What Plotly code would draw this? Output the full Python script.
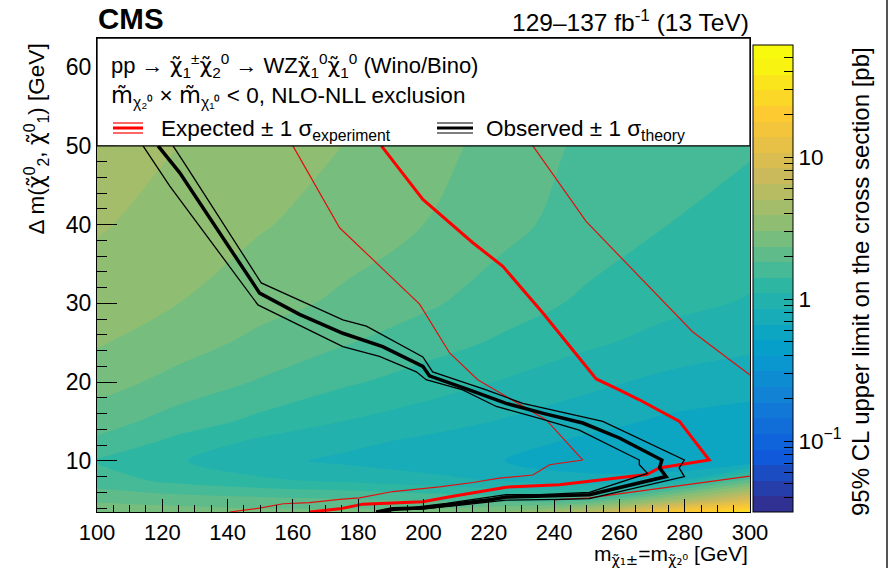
import math
import plotly.graph_objects as go

# ---------------- data ----------------
x_mass = [100, 125, 150, 175, 200, 225, 250, 275, 300]
y_dm = [3.5, 5, 7.5, 10, 12.5, 15, 20, 25, 30, 40, 50, 64]
# log10 of the 95% CL upper limit [pb], rows follow y_dm, columns follow x_mass
log_limit = [
    [0.45, 0.42, 0.40, 0.40, 0.42, 0.50, 0.75, 1.25, 1.50],
    [0.35, 0.32, 0.30, 0.28, 0.25, 0.22, 0.24, 0.60, 1.00],
    [0.20, 0.12, 0.06, 0.02, -0.03, -0.08, -0.15, -0.12, 0.30],
    [0.14, 0.05, -0.04, -0.09, -0.13, -0.18, -0.23, -0.26, -0.27],
    [0.24, 0.12, 0.02, -0.04, -0.09, -0.14, -0.20, -0.24, -0.26],
    [0.31, 0.21, 0.12, 0.04, -0.02, -0.08, -0.14, -0.20, -0.22],
    [0.42, 0.33, 0.25, 0.17, 0.10, 0.03, -0.04, -0.10, -0.14],
    [0.49, 0.42, 0.34, 0.27, 0.20, 0.13, 0.06, 0.00, -0.04],
    [0.54, 0.48, 0.41, 0.35, 0.28, 0.20, 0.13, 0.07, 0.03],
    [0.60, 0.55, 0.49, 0.43, 0.37, 0.29, 0.21, 0.15, 0.11],
    [0.64, 0.59, 0.54, 0.48, 0.42, 0.32, 0.24, 0.19, 0.16],
    [0.70, 0.65, 0.60, 0.54, 0.48, 0.38, 0.29, 0.24, 0.20],
]

obs_x = [118.7, 125.3, 149.8, 162.0, 175.3, 187.5, 199.8, 201.8, 214.0, 225.3, 237.0, 248.8,
         260.0, 273.0, 272.3, 274.3, 250.8, 235.5, 225.3, 221.0, 207.0, 199.8, 190.6, 185.5]
obs_y = [50.0, 46.6, 31.3, 28.6, 26.2, 24.5, 22.0, 20.8, 19.0, 17.3, 16.0, 14.8,
         12.9, 10.1, 9.1, 8.0, 5.7, 5.5, 5.4, 5.1, 4.4, 4.0, 3.9, 3.5]

obs_up_x = [123.3, 127.4, 150.3, 175.3, 182.5, 199.8, 202.8, 219.2, 230.4, 254.9, 279.9,
            278.3, 279.9, 250.8, 241.6, 225.3, 210.0, 199.8, 190.0, 185.5]
obs_up_y = [50.0, 47.4, 32.6, 27.9, 27.1, 23.2, 21.3, 19.0, 17.3, 15.0, 10.1,
            9.1, 8.0, 5.2, 5.1, 5.0, 4.3, 3.9, 3.7, 3.5]

obs_dn_x = [114.1, 122.3, 149.3, 175.3, 186.5, 197.8, 200.8, 212.0, 222.3, 235.5, 247.7,
            266.1, 266.1, 268.6, 250.8, 235.5, 225.3, 215.0, 207.0, 195.0, 188.0]
obs_dn_y = [50.0, 44.9, 29.8, 24.5, 23.25, 21.3, 20.3, 19.0, 16.9, 15.4, 13.9,
            10.1, 9.5, 8.4, 6.0, 5.7, 5.7, 5.1, 4.6, 4.0, 3.5]

exp_x = [187.1, 199.8, 215.1, 224.3, 236.5, 252.9, 259.0, 266.1, 278.4, 287.5, 272.2,
         268.4, 241.6, 225.3, 209.0, 199.8, 181.4, 174.3, 165.1]
exp_y = [50.0, 43.2, 37.7, 34.7, 28.8, 20.4, 19.2, 17.75, 15.0, 10.1, 9.1,
         8.25, 6.95, 6.65, 5.5, 4.8, 4.5, 3.9, 3.5]

exp_dn_x = [160.0, 169.2, 174.3, 198.8, 208.0, 216.6, 237.6, 248.8, 238.6, 233.5, 223.3,
            215.1, 204.9, 190.6, 180.4, 174.3, 165.1, 157.0, 149.8, 140.6]
exp_dn_y = [50.0, 43.2, 39.6, 29.9, 23.7, 20.3, 15.2, 10.1, 9.5, 8.2, 7.8,
            7.25, 6.7, 6.1, 5.3, 5.1, 4.7, 4.55, 4.0, 3.5]

exp_up_x = [233.5, 249.8, 282.4, 300.0, None, 300.0, 250.8, 240.0]
exp_up_y = [50.0, 40.4, 26.4, 20.9, None, 8.05, 5.3, 5.05]

cbar_tick_values = [0.04, 0.05, 0.06, 0.07, 0.08, 0.09, 0.1, 0.2, 0.3, 0.4, 0.5, 0.6, 0.7, 0.8, 0.9,
                    1, 2, 3, 4, 5, 6, 7, 8, 9, 10, 20, 30, 40, 50]
cbar_labels = {0.1: "10<sup>\u22121</sup>", 1: "1", 10: "10"}

# ROOT kBird palette
bird_stops = [0.0, 0.125, 0.25, 0.375, 0.5, 0.625, 0.75, 0.875, 1.0]
bird_r = [0.2082, 0.0592, 0.0780, 0.0232, 0.1802, 0.5301, 0.8186, 0.9956, 0.9764]
bird_g = [0.1664, 0.3599, 0.5041, 0.6419, 0.7178, 0.7492, 0.7328, 0.7862, 0.9832]
bird_b = [0.5293, 0.8684, 0.8385, 0.7914, 0.6425, 0.4662, 0.3499, 0.1968, 0.0539]
colorscale = [[s, f"rgb({int(r*255)},{int(g*255)},{int(b*255)})"]
              for s, r, g, b in zip(bird_stops, bird_r, bird_g, bird_b)]

FONT = "Liberation Sans, Arial, Helvetica, sans-serif"
TS = 22.5
ZMIN, ZMAX = -1.5, 1.79

fig = go.Figure()

fig.add_trace(go.Contour(
    x=x_mass, y=y_dm, z=log_limit,
    colorscale=colorscale, zmin=ZMIN, zmax=ZMAX, autocontour=False,
    contours=dict(start=ZMIN, end=ZMAX, size=0.11, coloring="fill", showlines=False),
    line=dict(width=0),
    hoverinfo="skip",
    colorbar=dict(
        x=1.0046, xanchor="left", xpad=0, ypad=0,
        y=0, yanchor="bottom", len=467, lenmode="pixels",
        thickness=40, thicknessmode="pixels",
        outlinewidth=1, outlinecolor="black",
        tickmode="array",
        tickvals=[math.log10(v) for v in cbar_tick_values],
        ticktext=[cbar_labels.get(v, "") for v in cbar_tick_values],
        ticks="inside", ticklen=9, tickcolor="black", tickwidth=1,
        tickfont=dict(family=FONT, size=22.5, color="black"),
    ),
))

def add_line(xs, ys, color, width):
    fig.add_trace(go.Scatter(x=xs, y=ys, mode="lines", line=dict(color=color, width=width),
                             showlegend=False, hoverinfo="skip", connectgaps=False))

add_line(exp_up_x, exp_up_y, "#e01010", 1.2)
add_line(exp_dn_x, exp_dn_y, "#e01010", 1.2)
add_line(exp_x, exp_y, "#ff0000", 3)
add_line(obs_up_x, obs_up_y, "black", 1.3)
add_line(obs_dn_x, obs_dn_y, "black", 1.3)
add_line(obs_x, obs_y, "black", 3.5)

fig.update_layout(
    width=896, height=568,
    margin=dict(l=97, r=146, t=38, b=56),
    paper_bgcolor="white", plot_bgcolor="white",
    font=dict(family=FONT, size=TS, color="black"),
    showlegend=False,
    xaxis=dict(range=[100, 300], tick0=100, dtick=20, ticks="inside", ticklen=13,
               tickwidth=1.2, tickcolor="black",
               minor=dict(ticks="inside", ticklen=7, dtick=5, tickcolor="black", tickwidth=1),
               showline=True, mirror=True, linecolor="black", linewidth=1.3,
               showgrid=False, zeroline=False, tickfont=dict(size=22, family=FONT)),
    yaxis=dict(range=[3.5, 63.7], tick0=0, dtick=10, ticks="inside", ticklen=20,
               tickwidth=1.2, tickcolor="black",
               minor=dict(ticks="inside", ticklen=10, dtick=2, tickcolor="black", tickwidth=1),
               showline=True, mirror=True, linecolor="black", linewidth=1.3,
               showgrid=False, zeroline=False, tickfont=dict(size=23, family=FONT)),
)

def px2x(px):
    return (px - 97) / 653.0

def py2y(py):
    return 1 - (py - 38) / 474.0

shapes = [
    dict(type="rect", xref="paper", yref="y", x0=0, x1=1, y0=50, y1=63.7,
         fillcolor="white", line=dict(color="black", width=1.3), layer="above"),
    dict(type="line", xref="paper", yref="paper", x0=px2x(887), x1=px2x(887),
         y0=py2y(0), y1=py2y(568), line=dict(color="#555555", width=2), layer="above"),
]
# legend symbols: three lines each
for (x0, x1, col) in [(113, 143, "red"), (437, 473, "black")]:
    for dy, w in [(-5, 1.2), (0, 3), (5, 1.2)]:
        shapes.append(dict(type="line", xref="paper", yref="paper",
                           x0=px2x(x0), x1=px2x(x1), y0=py2y(128 + dy), y1=py2y(128 + dy),
                           line=dict(color=col, width=w), layer="above"))
fig.update_layout(shapes=shapes)

DJ = "<span style=\"font-family:'DejaVu Sans'\">"
chi = DJ + "\u03c7\u0303</span>"
mt = DJ + "m\u0303</span>"
ann = [
    dict(text="<b>CMS</b>", x=px2x(96), y=py2y(18), xanchor="left", yanchor="middle",
         font=dict(size=29.5)),
    dict(text="129\u2013137 fb<sup>-1</sup> (13 TeV)", x=px2x(751), y=py2y(20),
         xanchor="right", yanchor="middle", font=dict(size=24.5)),
    dict(text=f"pp \u2192 {chi}<sub>1</sub><sup>\u00b1</sup>{chi}<sub>2</sub><sup>0</sup> \u2192 "
              f"WZ{chi}<sub>1</sub><sup>0</sup>{chi}<sub>1</sub><sup>0</sup> (Wino/Bino)",
         x=px2x(109), y=py2y(66), xanchor="left", yanchor="middle", font=dict(size=22)),
    dict(text=f"{mt}<sub>\u03c7\u2082\u2070</sub> \u00d7 {mt}<sub>\u03c7\u2081\u2070</sub> < 0, NLO-NLL exclusion",
         x=px2x(109), y=py2y(96), xanchor="left", yanchor="middle", font=dict(size=TS)),
    dict(text="Expected \u00b1 1 \u03c3<sub>experiment</sub>", x=px2x(159), y=py2y(130),
         xanchor="left", yanchor="middle", font=dict(size=TS)),
    dict(text="Observed \u00b1 1 \u03c3<sub>theory</sub>", x=px2x(484), y=py2y(130),
         xanchor="left", yanchor="middle", font=dict(size=TS)),
    dict(text=f"m<sub>{DJ}\u03c7\u0303\u2081\u00b1</span></sub>=m<sub>{DJ}\u03c7\u0303\u2082\u2070</span></sub> [GeV]",
         x=1.0, y=py2y(554.5), xanchor="right", yanchor="middle", font=dict(size=21)),
    dict(text=f"\u0394 m({chi}<sup>0</sup><sub>2</sub>, {chi}<sup>0</sup><sub>1</sub>) [GeV]",
         x=px2x(36), y=py2y(42), xanchor="center", yanchor="top", textangle=-90,
         font=dict(size=TS)),
    dict(text="95% CL upper limit on the cross section [pb]", x=px2x(860), y=py2y(282),
         xanchor="center", yanchor="middle", textangle=-90, font=dict(size=24)),
]
for a in ann:
    a.update(xref="paper", yref="paper", showarrow=False)
fig.update_layout(annotations=ann)

fig.write_html("out.html")
